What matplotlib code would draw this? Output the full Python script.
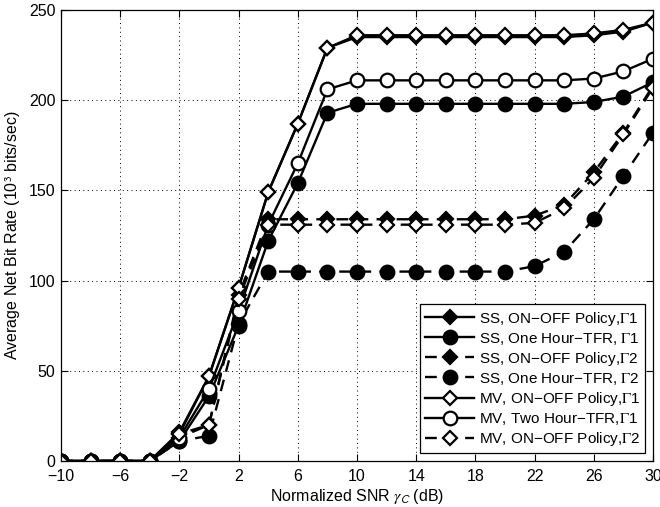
import numpy as np
import matplotlib.pyplot as plt

plt.rcParams['font.family'] = ['Liberation Sans', 'DejaVu Sans']
plt.rcParams['mathtext.fontset'] = 'stix'

# SNR points (dB)
snr = list(range(-10, 31, 2))

# Average net bit rate (10^3 bits/sec)
ss_onoff_g1 = [0, 0, 0, 0, 15, 47, 96, 149, 187, 229, 235, 235, 235, 235, 235, 235, 235, 235, 236, 238, 243]
ss_tfr_g1 = [0, 0, 0, 0, 11, 36, 75, 122, 154, 193, 198, 198, 198, 198, 198, 198, 198, 198, 199, 202, 210]
ss_onoff_g2 = [0, 0, 0, 0, 13, 20, 92, 134, 134, 134, 134, 134, 134, 134, 134, 134, 136, 142, 160, 182, 208]
ss_tfr_g2 = [0, 0, 0, 0, 11, 14, 76, 105, 105, 105, 105, 105, 105, 105, 105, 105, 108, 116, 134, 158, 182]
mv_onoff_g1 = [0, 0, 0, 0, 16, 47, 96, 149, 187, 229, 236, 236, 236, 236, 236, 236, 236, 236, 237, 239, 243]
mv_tfr_g1 = [0, 0, 0, 0, 13, 40, 83, 131, 165, 206, 211, 211, 211, 211, 211, 211, 211, 211, 212, 216, 223]
mv_onoff_g2 = [0, 0, 0, 0, 15, 20, 90, 131, 131, 131, 131, 131, 131, 131, 131, 131, 132, 140, 157, 181, 207]

labels = [
    r'SS, ON−OFF Policy,$\Gamma$1',
    r'SS, One Hour−TFR, $\Gamma$1',
    r'SS, ON−OFF Policy,$\Gamma$2',
    r'SS, One Hour−TFR, $\Gamma$2',
    r'MV, ON−OFF Policy,$\Gamma$1',
    r'MV, Two Hour−TFR,$\Gamma$1',
    r'MV, ON−OFF Policy,$\Gamma$2',
]

fig = plt.figure(figsize=(6.6, 5.07), dpi=100)
ax = fig.add_axes([61/660, 1 - 461/507, (653 - 61)/660, (461 - 10)/507])

dash = (0, (5, 3.5))
common = dict(color='black', lw=1.7, markeredgewidth=1.6, markeredgecolor='black')

ax.plot(snr, ss_onoff_g1, '-', marker='D', ms=7.3, mfc='black', label=labels[0], **common)
ax.plot(snr, ss_tfr_g1, '-', marker='o', ms=9.8, mfc='black', label=labels[1], **common)
ax.plot(snr, ss_onoff_g2, linestyle=dash, marker='D', ms=7.3, mfc='black', label=labels[2], **common)
ax.plot(snr, ss_tfr_g2, linestyle=dash, marker='o', ms=9.8, mfc='black', label=labels[3], **common)
ax.plot(snr, mv_onoff_g1, '-', marker='D', ms=7.3, mfc='white', label=labels[4], **common)
ax.plot(snr, mv_tfr_g1, '-', marker='o', ms=9.8, mfc='white', label=labels[5], **common)
ax.plot(snr, mv_onoff_g2, linestyle=dash, marker='D', ms=7.3, mfc='white', label=labels[6], **common)

ax.set_xlim(-10, 30)
ax.set_ylim(0, 250)
ax.set_xticks(np.arange(-10, 31, 4))
ax.set_yticks(np.arange(0, 251, 50))
ax.tick_params(direction='in', top=True, right=True, labelsize=11.5, length=5)
ax.tick_params(axis='x', pad=6)
ax.tick_params(axis='y', pad=4)
ax.grid(True, linestyle=(0, (1, 3.5)), color='black', linewidth=0.7)
for s in ax.spines.values():
    s.set_linewidth(0.9)

ax.set_xlabel(r'Normalized SNR $\gamma_{\mathsf{C}}$ (dB)', fontsize=11.5, labelpad=2)
ax.set_ylabel(r'Average Net Bit Rate (10$^{\mathsf{3}}$ bits/sec)', fontsize=11.5, labelpad=4)

leg = ax.legend(loc='lower right', fontsize=11, frameon=True, fancybox=False,
                edgecolor='black', framealpha=1, handlelength=3.2, borderaxespad=0.5,
                labelspacing=0.2, handletextpad=0.3, borderpad=0.35)
leg.get_frame().set_linewidth(0.9)

fig.savefig('out.png', dpi=100)
